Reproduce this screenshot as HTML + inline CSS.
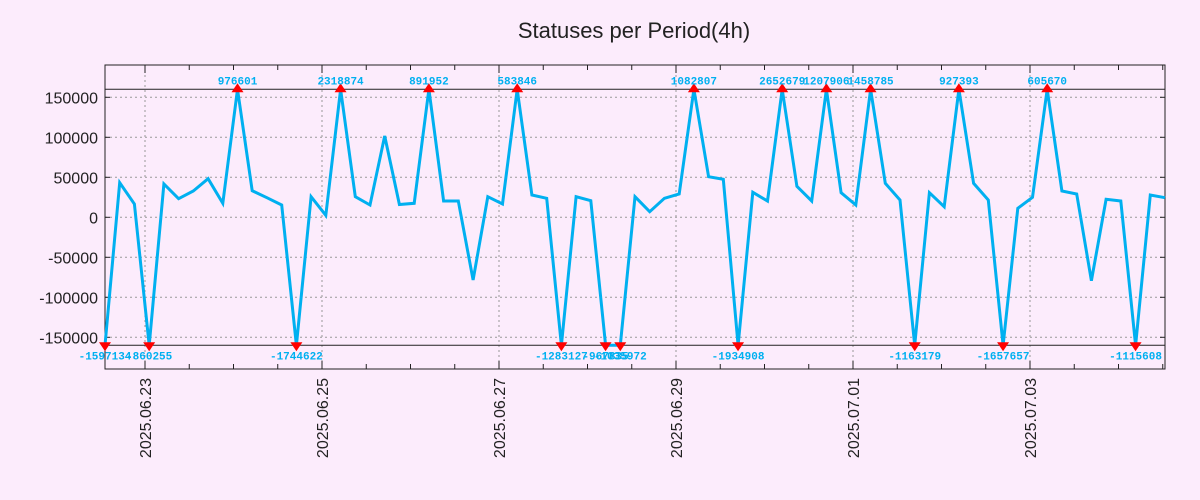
<!DOCTYPE html>
<html><head><meta charset="utf-8"><style>
body{margin:0;background:#fcecfc;}
svg{display:block;font-family:"Liberation Sans",sans-serif;}
</style></head><body>
<svg id="chart" width="1200" height="500">
<rect width="1200" height="500" fill="#fcecfc"/>
<text x="634" y="38" text-anchor="middle" font-size="22" fill="#222">Statuses per Period(4h)</text>
<g id="grid"></g><g id="axes"></g><g id="series"></g><g id="marks"></g>
</svg>
<script>
const values=[-1597134,43250,16600,-860255,41600,23300,32900,48300,17500,976601,33300,24500,15400,-1744622,25800,2500,2318874,25800,15400,101600,16000,17500,891952,20400,20400,-78400,25800,16600,583846,27900,23700,-1283127,25800,20800,-967835,-1035972,25800,7000,23700,29100,1082807,50800,47500,-1934908,31200,20400,2652679,38800,20400,1207906,30800,15400,1458785,42500,21600,-1163179,30800,13300,927393,42500,21600,-1657657,11200,25000,605670,32900,29100,-79200,22500,20400,-1115608,27900,24500];
const yTicks=[150000,100000,50000,0,-50000,-100000,-150000];
const dateLabels=["2025.06.23","2025.06.25","2025.06.27","2025.06.29","2025.07.01","2025.07.03"];
const clipHi=160000, clipLo=-160000;

const NS="http://www.w3.org/2000/svg";
const L=105,R=1165,T=65,B=369;
const xs=i=>L+i*(R-L)/(values.length-1);
const ys=v=>217.3-v*0.0008;
const dayX=d=>145+d*88.5; // d days after 2025.06.23
function mk(tag,attrs,parent,txt){const e=document.createElementNS(NS,tag);for(const k in attrs)e.setAttribute(k,attrs[k]);if(txt!==undefined)e.textContent=txt;parent.appendChild(e);return e;}
const grid=document.getElementById('grid'),axes=document.getElementById('axes'),series=document.getElementById('series'),marks=document.getElementById('marks');

yTicks.forEach(v=>{
  const g=mk('line',{x1:L,x2:R,y1:ys(v),y2:ys(v),stroke:'#999','stroke-dasharray':'2,3'},grid);
  
  
  const t=mk('text',{x:98,y:ys(v)+6,'text-anchor':'end','font-size':16,fill:'#222'},axes,String(v));
  
  
  mk('line',{x1:L,x2:L+5,y1:ys(v),y2:ys(v),stroke:'#222'},axes);
  mk('line',{x1:R-5,x2:R,y1:ys(v),y2:ys(v),stroke:'#222'},axes);
});
for(let h=-1;h<=24;h++){
  const x=dayX(h/2); if(x<L||x>R)continue;
  mk('line',{x1:x,x2:x,y1:B,y2:B-(h%4==0?8:5),stroke:'#222'},axes);
  mk('line',{x1:x,x2:x,y1:T,y2:T+(h%4==0?8:5),stroke:'#222'},axes);
}
dateLabels.forEach((d,k)=>{
  const x=dayX(2*k);
  const g=mk('line',{x1:x,x2:x,y1:T,y2:B,stroke:'#999','stroke-dasharray':'2,3'},grid);
  
  
  const t=mk('text',{x:x+6,y:378,'text-anchor':'end','font-size':16,fill:'#222',transform:`rotate(-90 ${x+6} 378)`},axes,d);
  
  
});
const fr=mk('rect',{x:L,y:T,width:R-L,height:B-T,fill:'none',stroke:'#222'},axes);


[clipHi,clipLo].forEach(v=>{
  const l=mk('line',{x1:L,x2:R,y1:ys(v),y2:ys(v),stroke:'#222'},axes);
  
  
});

const pts=values.map((v,i)=>xs(i).toFixed(1)+','+ys(Math.max(clipLo,Math.min(clipHi,v))).toFixed(1)).join(' ');
const pl=mk('polyline',{points:pts,fill:'none',stroke:'#00b0f0','stroke-width':3,'stroke-linejoin':'miter'},series);



values.forEach((v,i)=>{
  const x=xs(i);
  if(v>clipHi){
    const y=ys(clipHi);
    const p=mk('polygon',{points:`${x-6},${y+3} ${x+6},${y+3} ${x},${y-6}`,fill:'#f00'},marks);
    
    
    const t=mk('text',{x:x,y:y-5,'text-anchor':'middle','font-size':11,'font-weight':'bold','font-family':'Liberation Mono, monospace',fill:'#00b0f0'},marks,String(v));
    
    
  } else if(v<clipLo){
    const y=ys(clipLo);
    const p=mk('polygon',{points:`${x-6},${y-3} ${x+6},${y-3} ${x},${y+6}`,fill:'#f00'},marks);
    
    
    const t=mk('text',{x:x,y:y+14,'text-anchor':'middle','font-size':11,'font-weight':'bold','font-family':'Liberation Mono, monospace',fill:'#00b0f0'},marks,String(v));
    
    
  }
});
</script>
</body></html>
